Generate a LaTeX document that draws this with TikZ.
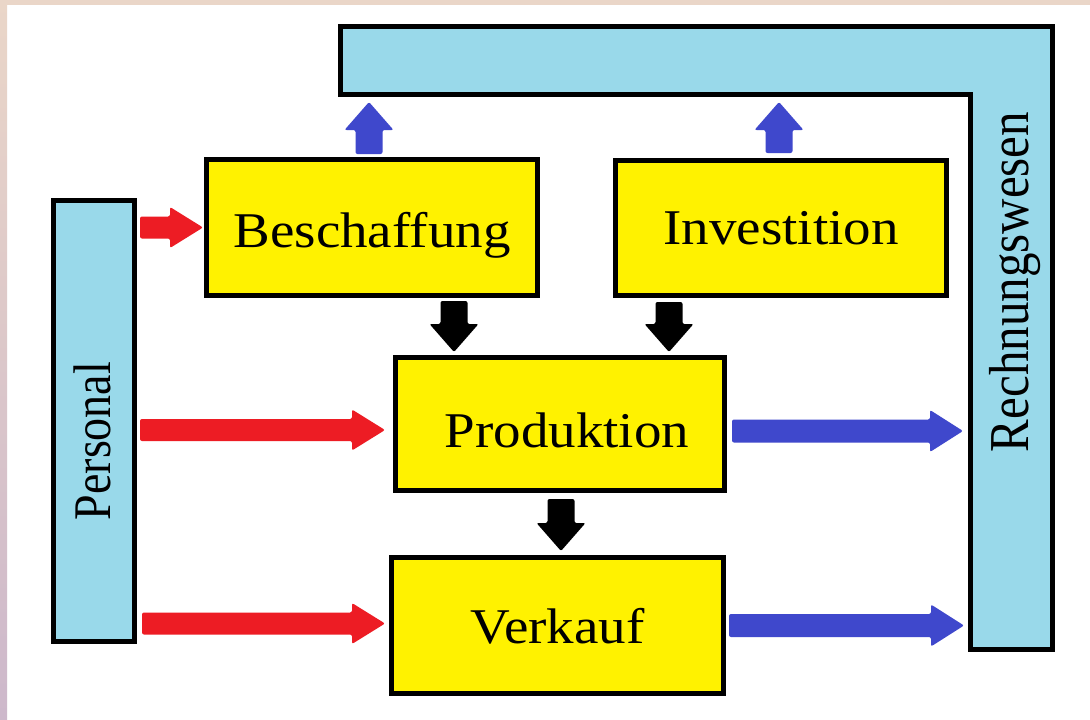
\documentclass[tikz,border=0pt]{standalone}
\usepackage{fontspec}
\setmainfont{Liberation Serif}
\newfontfamily\boxfont[FakeStretch=1.1]{Liberation Serif}
\usetikzlibrary{calc}

\definecolor{boxyellow}{HTML}{FFF200}
\definecolor{panelblue}{HTML}{99D9EA}
\definecolor{arrred}{HTML}{ED1C24}
\definecolor{arrblue}{HTML}{3F48CC}
\definecolor{frametop}{HTML}{EAD6C8}
\definecolor{framelow}{HTML}{CDB8CB}

% block arrow: style, shaft half width, head half width, head length, start, tip
\newcommand\blockarrow[6]{%
  \coordinate (ba-s) at #5;
  \coordinate (ba-t) at #6;
  \coordinate (ba-h) at ($(ba-t)!#4!(ba-s)$);
  \fill[#1] ($(ba-s)!#2!90:(ba-t)$) -- ($(ba-h)!#2!-90:(ba-s)$)
    -- ($(ba-h)!#3!-90:(ba-s)$) -- (ba-t) -- ($(ba-h)!#3!90:(ba-s)$)
    -- ($(ba-h)!#2!90:(ba-s)$) -- ($(ba-s)!#2!-90:(ba-t)$) -- cycle;
}

\tikzset{
  stage/.style={draw=black, line width=5pt, fill=boxyellow, inner sep=0pt,
    font={\boxfont\fontsize{50pt}{60pt}\selectfont}, text depth=0pt},
  panel/.style={draw=black, line width=5pt, fill=panelblue, line join=miter},
  sidelabel/.style={rotate=90, yscale=1.15, anchor=base, inner sep=0pt,
    font={\fontsize{#1}{60pt}\selectfont}},
  redarrow/.style={fill=arrred, rounded corners=2pt},
  bluearrow/.style={fill=arrblue, rounded corners=2pt},
  blackarrow/.style={fill=black, rounded corners=2pt},
}

\begin{document}
\begin{tikzpicture}[x=1pt, y=-1pt]
  \useasboundingbox (0,0) rectangle (1090,720);
  \fill[white] (0,0) rectangle (1090,720);
  % frame edges
  \fill[frametop] (0,0) rectangle (1090,5);
  \shade[top color=frametop, bottom color=framelow] (0,0) rectangle (7,720);

  % accounting panel (L-shaped)
  \draw[panel] (340.5,26.5) -- (1052.5,26.5) -- (1052.5,649.5) -- (970.5,649.5)
    -- (970.5,94.5) -- (340.5,94.5) -- cycle;
  \coordinate (rw-bar) at (338,97);
  \coordinate (rw-side) at (968,652);
  \node[sidelabel=49pt] (rw-label) at (1028,282) {Rechnungswesen};

  % personnel panel
  \node[panel, minimum width=81pt, minimum height=441pt, inner sep=0pt] (pers) at (94,421) {};
  \node[sidelabel=46pt] (pers-label) at (110,441) {Personal};

  % business functions
  \node[stage, minimum width=331pt, minimum height=136pt, text height=39pt] (besch) at (372,227.5) {Beschaffung};
  \node[stage, minimum width=331pt, minimum height=135pt, text height=32pt] (inv) at (781,228) {Investition};
  \node[stage, minimum width=329pt, minimum height=133pt, text height=46pt] (prod) at (560,424) {\hspace{14pt}Produktion};
  \node[stage, minimum width=332pt, minimum height=136pt, text height=35pt] (verk) at (557.5,625.5) {Verkauf};

  % personnel flows
  \blockarrow{redarrow}{11pt}{20.5pt}{33pt}{($(pers.east |- besch.west)+(3,0)$)}{($(besch.west)+(-1,0)$)}
  \blockarrow{redarrow}{11pt}{20.5pt}{33pt}{($(pers.east |- prod.west)+(3,6)$)}{($(prod.west)+(-8,6)$)}
  \blockarrow{redarrow}{11pt}{20.5pt}{33pt}{($(pers.east |- verk.west)+(5,-2)$)}{($(verk.west)+(-4,-2)$)}

  % material flows
  \blockarrow{blackarrow}{13.5pt}{24.5pt}{28pt}{($(besch.south -| prod.west)+(61,3)$)}{($(prod.north west)+(61,-3)$)}
  \blockarrow{blackarrow}{13.5pt}{24.5pt}{28pt}{($(inv.south -| prod.east)+(-58,4)$)}{($(prod.north east)+(-58,-3)$)}
  \blockarrow{blackarrow}{13.5pt}{24.5pt}{28pt}{($(prod.south)+(1,6)$)}{($(verk.north -| prod.south)+(1,-4)$)}

  % accounting flows
  \blockarrow{bluearrow}{13.5pt}{24.5pt}{28pt}{($(besch.north)+(-3,-3)$)}{($(besch.north |- rw-bar)+(-3,5)$)}
  \blockarrow{bluearrow}{13.5pt}{24.5pt}{28pt}{($(inv.north)+(-2,-5)$)}{($(inv.north |- rw-bar)+(-2,5)$)}
  \blockarrow{bluearrow}{11.5pt}{21pt}{33pt}{($(prod.east)+(5,7)$)}{($(prod.east -| rw-side)+(-5,7)$)}
  \blockarrow{bluearrow}{11.5pt}{21pt}{33pt}{($(verk.east)+(3,0)$)}{($(verk.east -| rw-side)+(-4,0)$)}
\end{tikzpicture}
\end{document}
